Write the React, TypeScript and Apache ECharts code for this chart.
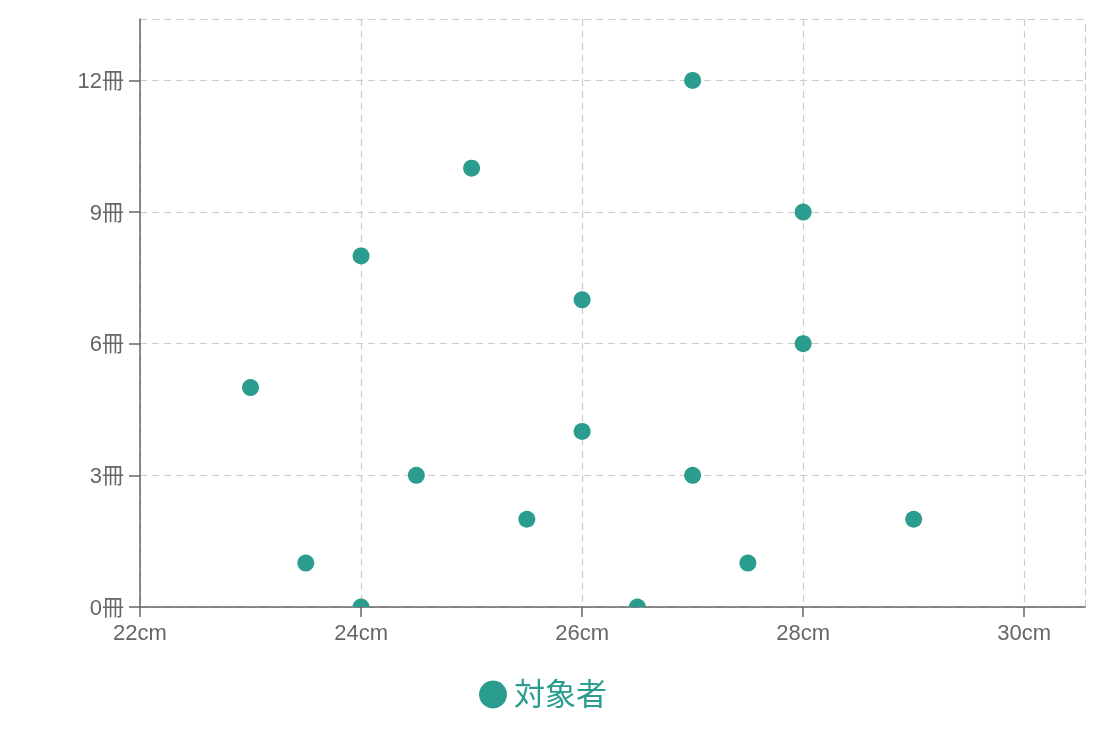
import {useEffect, useRef} from 'react';
import * as echarts from 'echarts';

// 靴のサイズ (cm) と 冊数
const sizeCm = [23, 23.5, 24, 24, 24.5, 25, 25.5, 26, 26, 26.5, 27, 27, 27.5, 28, 28, 29];
const books = [5, 1, 8, 0, 3, 10, 2, 7, 4, 0, 12, 3, 1, 9, 6, 2];
const xTicks = [22, 24, 26, 28, 30];
const yTicks = [0, 3, 6, 9, 12];
const seriesName = '対象者';

const TEAL = '#2a9d8f';
const FONT = '"Liberation Sans", Arial, "Noto Sans CJK JP", sans-serif';
const X_MIN = 22;
const X_MAX = 30.55;
const Y_MIN = 0;
const Y_MAX = 13.4;

export default function App() {
    const ref = useRef<HTMLDivElement | null>(null);

    useEffect(() => {
        if (!ref.current) return;
        const chart = echarts.init(ref.current, undefined, {renderer: 'svg'});
        const axisLine = {show: true, lineStyle: {color: '#666', width: 1.5}};
        const dashed = {color: '#ccc', type: [7, 5], width: 1.2};
        const splitLine = {show: true, lineStyle: dashed};
        // top / right frame lines of the plot area
        const frameAxis = {
            type: 'value',
            axisLine: {show: true, onZero: false, lineStyle: dashed},
            axisTick: {show: false},
            axisLabel: {show: false},
            splitLine: {show: false}
        };
        chart.setOption({
            animation: false,
            textStyle: {fontFamily: FONT},
            grid: {left: 140, right: 21, top: 19, bottom: 129, containLabel: false},
            legend: {
                data: [seriesName],
                left: 474,
                top: 674,
                icon: 'circle',
                itemWidth: 28,
                itemHeight: 28,
                textStyle: {color: TEAL, fontSize: 31, fontFamily: FONT, padding: [0, 0, 0, 2]}
            },
            xAxis: [{
                type: 'value',
                min: X_MIN,
                max: X_MAX,
                interval: 2,
                axisLine,
                axisTick: {show: true, length: 10, lineStyle: {color: '#666', width: 1.5}, customValues: xTicks},
                axisLabel: {
                    color: '#666', fontSize: 22, margin: 14, fontFamily: FONT,
                    customValues: xTicks,
                    formatter: (v: number) => `${v}cm`
                },
                splitLine,
                z: 1
            }, {...frameAxis, position: 'top', min: X_MIN, max: X_MAX}],
            yAxis: [{
                type: 'value',
                min: Y_MIN,
                max: Y_MAX,
                interval: 3,
                axisLine,
                axisTick: {show: true, length: 11, lineStyle: {color: '#666', width: 1.5}, customValues: yTicks},
                axisLabel: {
                    color: '#666', fontSize: 22, margin: 16, fontFamily: FONT,
                    customValues: yTicks,
                    formatter: (v: number) => `${v}冊`
                },
                splitLine,
                z: 1
            }, {...frameAxis, position: 'right', min: Y_MIN, max: Y_MAX}],
            series: [{
                name: seriesName,
                type: 'custom',
                xAxisIndex: 0,
                yAxisIndex: 0,
                clip: true,
                itemStyle: {color: TEAL},
                data: sizeCm.map((x, i) => [x, books[i]]),
                renderItem: (_params: any, api: any) => {
                    const p = api.coord([api.value(0), api.value(1)]);
                    return {
                        type: 'circle',
                        shape: {cx: p[0], cy: p[1], r: 8.5},
                        style: {fill: TEAL}
                    };
                }
            }]
        });
        return () => chart.dispose();
    }, []);

    return <div ref={ref} style={{position: 'fixed', left: 0, top: 0, width: 1106, height: 736}}/>;
}
